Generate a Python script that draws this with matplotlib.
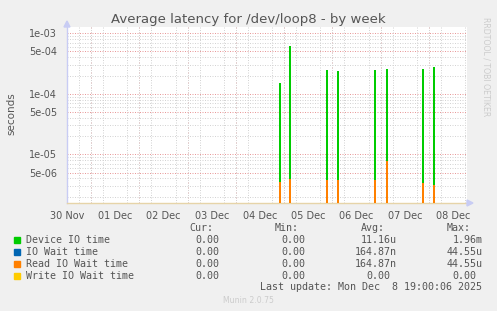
import matplotlib
matplotlib.use('Agg')
import matplotlib.pyplot as plt
import matplotlib.ticker as mticker
import numpy as np

W, H = 497, 311

# days since 30 Nov 00:00 for each spike, seconds
device_t = [4.408, 4.628, 5.395, 5.623, 6.390, 6.626, 6.644, 7.385, 7.612]
device_v = [1.51e-4, 6.16e-4, 2.47e-4, 2.38e-4, 2.47e-4, 2.57e-4, 1.0e-4, 2.57e-4, 2.77e-4]
read_t = [4.408, 4.628, 5.395, 5.623, 6.390, 6.626, 7.385, 7.612]
read_v = [3.53e-6, 3.91e-6, 3.76e-6, 3.76e-6, 3.76e-6, 7.74e-6, 3.32e-6, 3.11e-6]
iowait_v = read_v  # same as read IO wait

day_labels = ['30 Nov', '01 Dec', '02 Dec', '03 Dec', '04 Dec', '05 Dec', '06 Dec', '07 Dec', '08 Dec']
yticks = [1e-3, 5e-4, 1e-4, 5e-5, 1e-5, 5e-6]
ytick_labels = ['1e-03', '5e-04', '1e-04', '5e-05', '1e-05', '5e-06']

legend_names = ['Device IO time', 'IO Wait time', 'Read IO Wait time', 'Write IO Wait time']
legend_colors = ['#00cc00', '#0066b3', '#ff8000', '#ffcc00']
cur = ['0.00', '0.00', '0.00', '0.00']
mins = ['0.00', '0.00', '0.00', '0.00']
avgs = ['11.16u', '164.87n', '164.87n', '0.00']
maxs = ['1.96m', '44.55u', '44.55u', '0.00']


def fx(px):
    return px / W


def fy(py):
    return 1 - py / H


fig = plt.figure(figsize=(W / 100, H / 100), dpi=100, facecolor='#f0f0f0')
x0, x1, y0, y1 = 67, 467, 27, 203
ax = fig.add_axes([fx(x0), fy(y1), fx(x1) - fx(x0), fy(y0) - fy(y1)])
ax.set_facecolor('white')
ax.set_yscale('log')
ax.set_xlim(0, 8.29)
ax.set_ylim(1.567e-6, 1.27e-3)

# grid
ax.set_xticks(np.arange(0, 8.3, 0.25), minor=True)
ax.yaxis.set_minor_locator(mticker.LogLocator(base=10, subs=np.arange(2, 10)))
ax.yaxis.set_minor_formatter(mticker.NullFormatter())
ax.grid(True, which='minor', color='#d4d4d4', linestyle=(0, (1, 1.5)), linewidth=0.72)
ax.grid(True, which='major', axis='y', color='#e89a9a', linestyle=(0, (1, 1.5)), linewidth=0.72)
for d in np.arange(0.5, 8.3, 1):
    ax.axvline(d, color='#e89a9a', linestyle=(0, (1, 1.5)), linewidth=0.72, zorder=0.5)
ax.set_axisbelow(True)

bw = 0.036
ax.bar(device_t, device_v, width=bw, bottom=1e-8, color=legend_colors[0], linewidth=0, zorder=3)
ax.bar(read_t, iowait_v, width=bw, bottom=1e-8, color=legend_colors[1], linewidth=0, zorder=4)
ax.bar(read_t, read_v, width=bw, bottom=1e-8, color=legend_colors[2], linewidth=0, zorder=5)

ax.set_xticks(range(len(day_labels)))
ax.set_xticklabels(day_labels)
ax.set_yticks(yticks)
ax.set_yticklabels(ytick_labels)
ax.tick_params(axis='both', which='both', length=0, labelsize=7, labelcolor='#555555')
ax.tick_params(axis='x', pad=6)
ax.tick_params(axis='y', pad=7)

for s in ['top', 'right']:
    ax.spines[s].set_visible(False)
ax.spines['left'].set_color('#c8ccf4')
ax.spines['bottom'].set_color('#e6d4a8')
ax.spines['left'].set_linewidth(1)
ax.spines['bottom'].set_linewidth(1)

# axis arrows
fig.patches.append(plt.Polygon([[fx(64), fy(27)], [fx(70), fy(27)], [fx(67), fy(21)]],
                               closed=True, color='#c8ccf4', transform=fig.transFigure))
fig.patches.append(plt.Polygon([[fx(467), fy(200)], [fx(467), fy(206)], [fx(473), fy(203)]],
                               closed=True, color='#c8ccf4', transform=fig.transFigure))

fig.text(fx(248), fy(19), 'Average latency for /dev/loop8 - by week', ha='center', va='center',
         fontsize=9.5, color='#555555')
fig.text(fx(11), fy(114), 'seconds', rotation=90, ha='center', va='center', fontsize=7.5, color='#555555')
fig.text(fx(486), fy(17), 'RRDTOOL / TOBI OETIKER', rotation=270, ha='center', va='top',
         fontsize=5.6, color='#cccccc')

# legend block
mono = dict(family='DejaVu Sans Mono', fontsize=7.2, color='#555555', va='center')
cw = 6.0
cols_end = [225.3, 311.0, 396.7, 482.7]
heads = ['Cur:', 'Min:', 'Avg:', 'Max:']
for ce, h in zip(cols_end, heads):
    fig.text(fx(ce - 2 * cw), fy(228.3), h, ha='right', **mono)

row_y = [239.7, 251.7, 263.7, 275.7]
for i, name in enumerate(legend_names):
    yy = row_y[i]
    fig.patches.append(plt.Rectangle((fx(14), fy(yy + 3)), 6 / W, 6 / H, color=legend_colors[i],
                                     transform=fig.transFigure))
    fig.text(fx(26.3), fy(yy), name, ha='left', **mono)
    for ce, val in zip(cols_end, [cur[i], mins[i], avgs[i], maxs[i]]):
        end = ce if val[-1].isalpha() else ce - cw
        fig.text(fx(end), fy(yy), val, ha='right', **mono)

fig.text(fx(482.5), fy(287.3), 'Last update: Mon Dec  8 19:00:06 2025', ha='right', **mono)
fig.text(fx(248), fy(300.3), 'Munin 2.0.75', ha='center', va='center', fontsize=5.6, color='#cccccc')

fig.savefig('out.png', dpi=100, facecolor=fig.get_facecolor())
